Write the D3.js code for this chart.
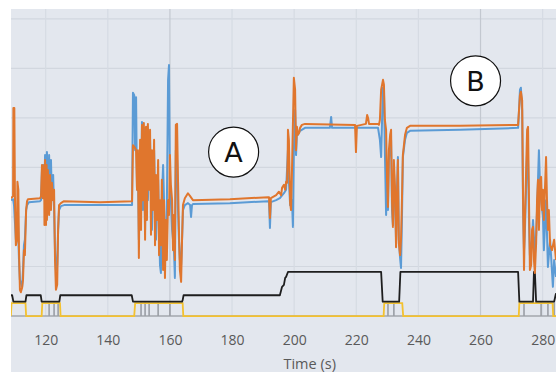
<!DOCTYPE html>
<html>
<head>
<meta charset="utf-8">
<script src="https://cdn.jsdelivr.net/npm/d3@7"></script>
<style>
  html, body { margin: 0; padding: 0; background: #ffffff; }
  svg { display: block; }
  .tick text { font-family: "Open Sans", sans-serif; font-size: 14px; fill: #595959; }
</style>
</head>
<body>
<svg id="chart"></svg>
<script>
// time window that is visible (s) and value window (arbitrary units)
const timeDomain = [108.83, 284.3];
const valueDomain = [-11.3, 62.0];
const timeTicks = [120, 140, 160, 180, 200, 220, 240, 260, 280];
const valueGrid = [10, 20, 30, 40, 50, 60];
const majorTimeGrid = [160, 260];

// measured signal (orange) - [time, value]
const orangeSeries = [
  [108.8, 23.8], [109.5, 24.2], [109.6, 42.0], [109.9, 42.0], [110.1, 24.2], [110.4, 14.3],
  [110.8, 15.4], [110.9, 27.1], [111.2, 25.5], [111.4, 13.3], [111.7, 5.3], [112.0, 4.8],
  [112.4, 5.7], [112.7, 7.3], [113.0, 13.3], [113.3, 12.3], [113.7, 21.4], [114.0, 23.2],
  [114.3, 23.6], [118.2, 23.8], [118.5, 24.2], [118.8, 30.5], [119.0, 24.4], [119.1, 23.8],
  [119.5, 30.5], [119.6, 18.4], [119.8, 31.5], [120.1, 18.4], [120.3, 30.5], [120.4, 19.4],
  [120.7, 29.5], [121.1, 20.4], [121.4, 28.5], [121.7, 21.4], [122.0, 26.9], [122.4, 23.4],
  [122.7, 25.5], [123.0, 11.3], [123.3, 5.3], [123.7, 6.3], [124.0, 17.4], [124.3, 22.4],
  [124.9, 22.8], [125.9, 23.2], [137.5, 23.0], [147.8, 23.2],
  [148.1, 34.5], [148.8, 33.9], [149.1, 33.5], [149.4, 25.5], [149.7, 33.5], [150.0, 11.7],
  [150.4, 35.6], [150.7, 17.4], [151.0, 38.6], [151.3, 23.4], [151.6, 39.0], [152.0, 15.4],
  [152.3, 38.2], [152.6, 19.4], [152.9, 38.8], [153.3, 25.5], [153.6, 37.6], [153.9, 16.4],
  [154.2, 33.5], [154.5, 21.4], [154.9, 35.6], [155.2, 14.3], [155.5, 28.5], [155.8, 19.4],
  [156.2, 31.5], [156.5, 12.3], [156.8, 23.4], [157.1, 14.3], [157.4, 27.5], [157.8, 9.3],
  [158.1, 23.4], [158.4, 7.7], [158.7, 19.4], [159.0, 11.3], [159.4, 23.4], [159.7, 20.4],
  [160.0, 32.5], [160.3, 26.5], [160.7, 23.4], [161.0, 13.3], [161.3, 20.4], [161.6, 11.3],
  [161.9, 38.6], [162.3, 38.8], [162.6, 27.5], [162.9, 17.4], [163.2, 9.3], [163.6, 6.9],
  [163.9, 15.4], [164.2, 22.4], [164.8, 23.8], [165.8, 24.8], [166.5, 24.2], [167.4, 23.4],
  [179.3, 23.6], [191.6, 24.0], [191.9, 24.0], [192.2, 19.8], [192.5, 23.8], [194.2, 24.4],
  [195.1, 25.1], [195.8, 24.4], [196.1, 25.9], [196.7, 26.5], [197.1, 25.5], [197.4, 27.1],
  [197.7, 26.9], [197.9, 31.5], [198.0, 37.6], [198.3, 35.6], [198.7, 22.8], [199.0, 21.4],
  [199.3, 29.5], [199.9, 48.1], [200.3, 45.7], [200.6, 33.5], [200.9, 38.2], [201.2, 36.6],
  [201.6, 37.0], [201.9, 38.0], [202.5, 38.6], [203.5, 38.8], [219.6, 38.6], [219.9, 33.1],
  [220.2, 38.4], [223.1, 38.8], [223.5, 40.6], [223.8, 40.0], [224.1, 38.8], [227.0, 38.8],
  [227.3, 38.6], [227.6, 39.6], [228.0, 45.7], [228.6, 47.7], [228.9, 46.7], [229.2, 39.6],
  [229.6, 37.6], [229.9, 27.5], [230.2, 22.0], [230.5, 33.5], [230.9, 36.6], [231.2, 37.6],
  [231.5, 23.4], [231.8, 18.0], [232.1, 31.5], [232.5, 25.5], [232.8, 13.9], [233.1, 23.4],
  [233.4, 31.5], [233.7, 14.7], [234.1, 12.3], [234.4, 15.4], [234.7, 23.4], [235.0, 32.5],
  [235.7, 36.6], [236.3, 38.0], [237.3, 38.4], [253.4, 38.4], [272.1, 38.6], [272.4, 41.6],
  [272.7, 44.6], [273.0, 45.3], [273.4, 43.6], [273.7, 23.4], [274.0, 9.3], [274.3, 19.4],
  [275.0, 37.6], [275.3, 38.2], [275.6, 23.4], [275.9, 9.3], [276.3, 10.3], [276.6, 17.4],
  [276.9, 18.0], [277.2, 11.3], [277.5, 8.7], [277.9, 14.7], [278.2, 23.4], [278.5, 27.5],
  [278.8, 17.4], [279.2, 27.5], [279.5, 28.1], [279.8, 21.4], [280.1, 25.5], [280.4, 19.4],
  [281.1, 32.1], [281.4, 23.4], [281.7, 17.4], [282.0, 21.4], [282.4, 14.3], [283.0, 13.3],
  [283.7, 15.4], [284.3, 11.3]
];

// reference signal (blue) - [time, value]
const blueSeries = [
  [108.8, 23.4], [109.5, 23.6], [109.8, 22.4], [110.4, 15.4], [110.8, 20.4], [111.1, 18.4],
  [111.4, 11.3], [111.7, 7.3], [112.4, 5.9], [112.7, 9.3], [113.0, 14.3], [113.3, 15.4],
  [113.7, 21.4], [114.0, 22.4], [114.6, 23.0], [118.2, 23.2], [118.5, 23.4], [118.8, 29.5],
  [119.1, 30.5], [119.5, 24.4], [119.8, 32.5], [120.1, 23.4], [120.4, 33.1], [120.7, 21.4],
  [121.1, 32.5], [121.4, 22.4], [121.7, 31.5], [122.0, 23.4], [122.4, 28.5], [122.7, 21.4],
  [123.0, 13.3], [123.3, 9.3], [123.7, 10.3], [124.0, 17.4], [124.3, 21.4], [124.9, 22.2],
  [125.9, 22.4], [147.8, 22.4],
  [148.1, 45.1], [148.5, 44.6], [148.8, 33.5], [149.1, 44.2], [149.4, 25.5], [149.7, 31.5],
  [150.0, 15.4], [150.4, 31.5], [150.7, 23.4], [151.0, 39.2], [151.3, 21.4], [151.6, 38.0],
  [152.0, 17.4], [152.3, 36.6], [152.9, 23.4], [153.6, 35.6], [154.2, 17.4], [154.9, 33.5],
  [155.5, 15.4], [156.2, 27.5], [156.8, 10.3], [157.1, 8.7], [157.4, 23.4], [157.8, 30.5],
  [158.1, 23.4], [158.4, 11.3], [158.7, 15.4], [159.0, 21.4], [159.4, 47.7], [159.7, 50.7],
  [160.0, 27.5], [160.3, 23.4], [160.7, 17.4], [161.0, 15.4], [161.3, 13.3], [161.6, 7.7],
  [161.9, 33.5], [162.3, 31.5], [162.6, 21.4], [162.9, 15.4], [163.2, 11.3], [163.6, 10.3],
  [163.9, 15.4], [164.2, 21.4], [164.8, 22.4], [165.8, 22.8], [166.5, 22.4], [166.8, 20.0],
  [167.1, 22.4], [167.4, 22.6], [179.3, 22.8], [191.6, 23.2], [191.9, 23.2], [192.2, 17.8],
  [192.5, 23.0], [194.2, 23.4], [195.4, 23.8], [196.7, 24.8], [197.4, 25.5], [198.0, 33.5],
  [198.3, 27.5], [198.7, 22.4], [199.3, 23.4], [199.6, 18.0], [199.9, 33.5], [200.3, 41.6],
  [200.6, 32.5], [200.9, 37.0], [201.2, 36.6], [201.9, 37.4], [203.5, 38.0], [211.5, 38.0],
  [211.9, 40.2], [212.2, 38.0], [227.0, 38.0], [227.6, 35.6], [228.0, 32.1], [228.3, 39.6],
  [228.6, 46.1], [228.9, 45.7], [229.2, 33.5], [229.6, 20.4], [229.9, 27.5], [230.2, 21.4],
  [230.5, 31.5], [230.9, 34.5], [231.2, 35.6], [231.5, 21.4], [231.8, 18.4], [232.1, 29.5],
  [232.5, 23.4], [232.8, 15.4], [233.1, 25.5], [233.4, 32.1], [233.7, 15.4], [234.1, 11.7],
  [234.4, 9.7], [234.7, 19.4], [235.0, 32.1], [235.7, 35.6], [236.3, 37.0], [237.3, 37.4],
  [253.4, 37.6], [272.1, 38.0], [272.4, 41.6], [272.7, 45.7], [273.0, 46.1], [273.4, 41.6],
  [273.7, 21.4], [274.0, 13.3], [274.3, 17.4], [275.0, 33.5], [275.3, 31.5], [275.6, 19.4],
  [275.9, 12.3], [276.6, 15.4], [276.9, 19.4], [277.5, 12.3], [277.9, 16.4], [278.2, 21.4],
  [278.8, 33.5], [279.2, 25.5], [279.5, 23.4], [280.1, 20.0], [280.4, 13.3], [281.1, 23.4],
  [281.7, 9.9], [282.4, 15.4], [282.7, 12.3], [283.3, 5.9], [283.7, 11.3], [284.3, 7.9]
];

// state signal (black)
const stateSeries = [
  [108.8, 4.2], [109.2, 4.2], [109.6, 2.9], [113.5, 2.9], [113.8, 4.2], [118.4, 4.2],
  [118.7, 2.9], [124.4, 2.9], [124.7, 4.2], [147.7, 4.2], [148.1, 2.9], [163.9, 2.9],
  [164.1, 3.2], [164.4, 4.2], [195.4, 4.2], [196.1, 5.9], [196.7, 6.3], [197.1, 7.7],
  [197.4, 7.9], [198.0, 8.9], [228.0, 8.9], [228.5, 2.9], [233.8, 2.9], [234.2, 8.9],
  [272.1, 8.9], [272.5, 2.9], [276.9, 2.9], [277.2, 8.9], [277.5, 8.9], [277.9, 2.9],
  [283.7, 2.9], [284.3, 4.6]
];

// flag signal (yellow)
const flagSeries = [
  [108.8, 0], [109.0, 2.6], [113.5, 2.6], [113.7, 0], [118.7, 0], [118.9, 2.6],
  [124.6, 2.6], [124.8, 0], [148.5, 0], [148.8, 2.6], [164.1, 2.6], [164.3, 0],
  [228.8, 0], [229.0, 2.6], [234.8, 2.6], [235.1, 0], [272.3, 0], [272.5, 2.6],
  [283.2, 2.6], [283.4, 0], [284.3, 0]
];

// short pulses (grey)
const pulseTimes = [121.1, 122.7, 124.0, 150.7, 152.0, 153.3, 156.2, 160.0,
  230.2, 232.1, 274.0, 279.5, 281.7, 283.7];
const pulseHeight = 2.8;

// annotations
const markers = [
  { label: 'A', t: 180.5, v: 33.1 },
  { label: 'B', t: 258.4, v: 47.5 }
];

const width = 556;
const height = 372;
const plot = { left: 11, top: 9, right: 556, bottom: 372 };

const svg = d3.select('#chart')
  .attr('width', width)
  .attr('height', height);

const x = d3.scaleLinear().domain(timeDomain).range([plot.left, plot.right]);
const y = d3.scaleLinear().domain(valueDomain).range([plot.bottom, plot.top]);

// Plot background
svg.append('rect')
  .attr('x', plot.left)
  .attr('y', plot.top)
  .attr('width', plot.right - plot.left)
  .attr('height', plot.bottom - plot.top)
  .attr('fill', '#e3e7ee');

// Grid
const grid = svg.append('g');
grid.selectAll('.hgrid')
  .data(valueGrid)
  .enter()
  .append('line')
  .attr('x1', plot.left)
  .attr('x2', plot.right)
  .attr('y1', d => y(d))
  .attr('y2', d => y(d))
  .attr('stroke', '#d2d7df')
  .attr('stroke-width', 1.2);

grid.selectAll('.vgrid')
  .data(timeTicks)
  .enter()
  .append('line')
  .attr('x1', d => x(d))
  .attr('x2', d => x(d))
  .attr('y1', plot.top)
  .attr('y2', y(0))
  .attr('stroke', d => majorTimeGrid.includes(d) ? '#c3c8d0' : '#d6dbe3')
  .attr('stroke-width', 1.2);

// Time axis (labels only)
const axis = svg.append('g')
  .attr('transform', `translate(0,${y(0)})`)
  .call(d3.axisBottom(x).tickValues(timeTicks).tickSize(0).tickPadding(19).tickFormat(d3.format('d')));
axis.select('.domain').remove();

svg.append('text')
  .attr('x', x(205))
  .attr('y', 369)
  .attr('text-anchor', 'middle')
  .attr('font-family', '"Open Sans", sans-serif')
  .attr('font-size', 14.5)
  .attr('fill', '#595959')
  .text('Time (s)');

const line = d3.line()
  .x(d => x(d[0]))
  .y(d => y(d[1]));

const clip = svg.append('clipPath').attr('id', 'plot-clip')
  .append('rect')
  .attr('x', plot.left)
  .attr('y', plot.top)
  .attr('width', plot.right - plot.left)
  .attr('height', plot.bottom - plot.top);

const series = svg.append('g').attr('clip-path', 'url(#plot-clip)');

// grey pulses: baseline plus thin spikes
series.append('line')
  .attr('x1', plot.left)
  .attr('x2', plot.right)
  .attr('y1', y(0))
  .attr('y2', y(0))
  .attr('stroke', '#a3a7ad')
  .attr('stroke-width', 1.6);

series.selectAll('.pulse')
  .data(pulseTimes)
  .enter()
  .append('line')
  .attr('class', 'pulse')
  .attr('x1', d => x(d))
  .attr('x2', d => x(d))
  .attr('y1', y(0))
  .attr('y2', y(pulseHeight))
  .attr('stroke', '#9a9ea5')
  .attr('stroke-width', 1.6);

series.append('path')
  .datum(flagSeries)
  .attr('d', line)
  .attr('fill', 'none')
  .attr('stroke', '#f3c130')
  .attr('stroke-width', 1.8);

series.append('path')
  .datum(stateSeries)
  .attr('d', line)
  .attr('fill', 'none')
  .attr('stroke', '#1e1e1e')
  .attr('stroke-width', 1.8)
  .attr('stroke-linejoin', 'round');

series.append('path')
  .datum(blueSeries)
  .attr('d', line)
  .attr('fill', 'none')
  .attr('stroke', '#5b9bd5')
  .attr('stroke-width', 2)
  .attr('stroke-linejoin', 'round');

series.append('path')
  .datum(orangeSeries)
  .attr('d', line)
  .attr('fill', 'none')
  .attr('stroke', '#e0762d')
  .attr('stroke-width', 2)
  .attr('stroke-linejoin', 'round');

// Circled annotations
const mark = svg.append('g').selectAll('.marker')
  .data(markers)
  .enter()
  .append('g')
  .attr('transform', d => `translate(${x(d.t)},${y(d.v)})`);

mark.append('circle')
  .attr('r', 25)
  .attr('fill', '#ffffff')
  .attr('stroke', '#111111')
  .attr('stroke-width', 1.2);

mark.append('text')
  .attr('text-anchor', 'middle')
  .attr('dy', '0.36em')
  .attr('font-family', '"DejaVu Sans", sans-serif')
  .attr('font-size', 27)
  .attr('fill', '#111111')
  .text(d => d.label);
</script>
</body>
</html>
